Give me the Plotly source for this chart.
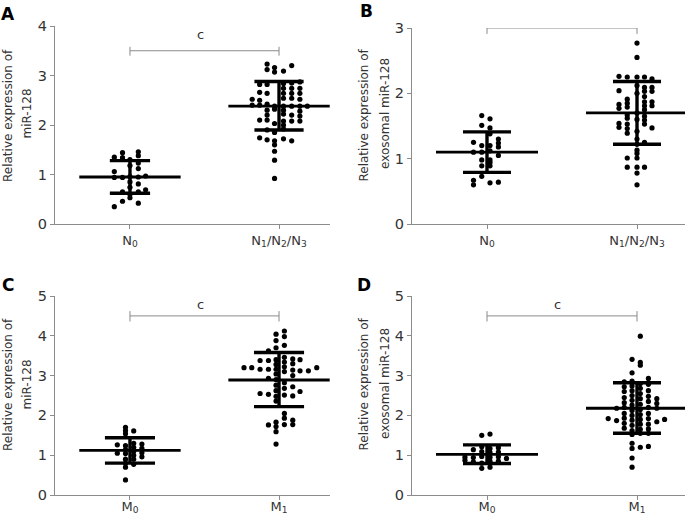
import plotly.graph_objects as go

# ---------------- data ----------------
cat_n = ["N<sub>0</sub>", "N<sub>1</sub>/N<sub>2</sub>/N<sub>3</sub>"]
cat_m = ["M<sub>0</sub>", "M<sub>1</sub>"]

# Panel A : miR-128, N0 vs N1/N2/N3
a_n0_y = [1.44, 1.46, 1.38, 1.35, 1.34, 1.30, 1.23, 1.18, 1.12, 1.06, 0.94, 0.94, 0.96,
          0.95, 0.97, 0.85, 0.81, 0.74, 0.69, 0.65, 0.65, 0.60, 0.53, 0.46, 0.42, 0.35]
a_n0_dx = [-0.05, 0.056, 0.056, -0.105, -0.05, 0.0, 0.056, 0.0, 0.056, -0.105, -0.105, -0.05, 0.0,
           0.056, 0.105, 0.0, 0.056, 0.0, 0.105, -0.05, 0.056, 0.0, 0.0, -0.05, 0.056, -0.105]
a_n1_y = [3.23, 3.12, 3.16, 3.07, 3.09, 3.20, 2.82, 2.82, 2.85, 2.87, 2.84, 2.74, 2.74, 2.74,
          2.66, 2.64, 2.64, 2.64, 2.64, 2.52, 2.54, 2.54, 2.52, 2.50, 2.40, 2.40, 2.38, 2.38,
          2.38, 2.38, 2.38, 2.42, 2.30, 2.32, 2.30, 2.28, 2.20, 2.20, 2.18, 2.22, 2.10, 2.10,
          2.08, 2.08, 2.08, 2.03, 2.00, 1.92, 1.85, 1.90, 1.74, 1.70, 1.72, 1.68, 1.68, 1.60,
          1.47, 1.29, 0.92]
a_n1_dx = [-0.08, -0.08, -0.03, -0.03, 0.03, 0.085, -0.13, -0.08, 0.085, 0.14, 0.03, 0.03, 0.085, 0.14,
           -0.13, -0.08, 0.03, 0.085, 0.14, -0.18, 0.03, 0.085, 0.14, -0.13, -0.18, -0.13, -0.03, 0.03,
           0.085, 0.14, 0.19, -0.08, -0.08, -0.03, 0.03, 0.14, -0.08, 0.085, 0.14, 0.03, -0.13, -0.08,
           0.03, 0.085, 0.14, -0.03, 0.03, 0.03, -0.03, -0.08, -0.13, -0.08, 0.03, -0.03, 0.085, -0.03,
           -0.03, -0.03, -0.03]

# Panel B : exosomal miR-128, N0 vs N1/N2/N3
b_n0_y = [1.66, 1.61, 1.51, 1.47, 1.38, 1.25, 1.30, 1.24, 1.18, 1.20, 1.20, 1.10, 1.10,
          1.12, 1.05, 0.98, 0.98, 0.94, 0.89, 0.89, 0.73, 0.67, 0.60, 0.63, 0.64]
b_n0_dx = [-0.035, 0.02, -0.035, 0.02, 0.02, -0.09, 0.076, 0.076, 0.076, -0.035, 0.02, -0.09, -0.035,
           0.02, 0.076, -0.035, 0.02, 0.02, -0.035, 0.02, -0.035, -0.09, -0.09, 0.02, 0.076]
b_n1_y = [2.26, 2.04, 1.83, 1.77, 1.54, 1.48,
          2.25, 1.91, 1.85, 1.79, 1.67, 1.62, 1.53, 1.46, 1.39, 1.01, 0.87,
          2.77, 2.55, 2.25, 2.12, 2.00, 1.70, 1.60, 1.42, 1.30, 1.22, 1.13, 1.08, 1.01, 0.87, 0.78, 0.60,
          2.25, 2.09, 2.03, 1.95, 1.87, 1.81, 1.75, 1.65, 1.59, 1.53, 1.25, 0.87,
          2.22, 2.09, 2.03, 1.87, 1.81, 1.47]
b_n1_dx = [-0.12] * 6 + [-0.065] * 11 + [0.0] * 16 + [0.05] * 12 + [0.10] * 6

# Panel C : miR-128, M0 vs M1
c_m0_y = [1.70, 1.62, 1.54, 1.24, 1.14, 1.04, 0.90, 0.80, 0.70, 0.38,
          1.61, 1.30, 1.20, 1.10, 1.00, 0.90, 0.77,
          1.28, 1.17, 1.06, 0.96,
          1.26, 1.05]
c_m0_dx = [-0.03] * 10 + [0.025] * 7 + [0.08] * 4 + [-0.085] * 2
c_m1_y = [4.04, 3.88, 3.70, 3.40, 3.28, 3.16, 3.04, 2.90, 2.76, 2.62, 2.48, 2.36, 1.83, 1.72, 1.59, 1.28,
          4.12, 3.98, 3.76, 3.46, 3.34, 3.22, 3.10, 2.82, 2.68, 2.51, 2.05, 1.93, 1.77,
          3.62, 3.38, 3.16, 2.93, 2.53, 1.76,
          3.38, 3.16, 2.55,
          3.20, 3.20,
          3.42, 3.30, 3.14, 3.00, 2.72, 2.49, 1.88, 1.77,
          3.40, 3.12, 2.60,
          3.12, 3.20]
c_m1_dx = ([-0.02] * 16 + [0.036] * 13 + [-0.071] * 6 + [-0.127] * 3 + [-0.183, -0.235]
           + [0.092] * 8 + [0.141] * 3 + [0.197, 0.253])

# Panel D : exosomal miR-128, M0 vs M1
d_m0_y = [0.95, 0.87,
          1.14, 0.94, 0.83,
          1.50, 1.21, 1.09, 0.97, 0.80, 0.67,
          1.53, 1.17, 1.07, 0.95, 0.85, 0.70,
          1.19, 1.08, 0.96, 0.85,
          0.92]
d_m0_dx = [-0.147] * 2 + [-0.091] * 3 + [-0.035] * 6 + [0.02] * 6 + [0.076] * 4 + [0.13]
d_m1_y = [1.92,
          2.18, 1.87,
          2.84, 2.72, 2.60, 2.45, 2.32, 2.20, 2.05, 1.93, 1.80, 1.68,
          3.41, 3.07, 2.86, 2.74, 2.62, 2.50, 2.38, 2.26, 2.12, 2.00, 1.88, 1.75, 1.62, 1.52, 1.30, 1.17, 0.93, 0.70,
          3.99, 3.33, 3.26, 2.80, 2.68, 2.55, 2.42, 2.28, 2.15, 2.02, 1.90, 1.78, 1.65, 1.55, 1.20,
          2.93, 2.78, 2.62, 2.48, 2.35, 2.20, 2.05, 1.92, 1.78, 1.66, 1.55, 1.22,
          2.42, 2.30, 2.18, 1.84,
          1.90]
d_m1_dx = ([-0.192] + [-0.136] * 2 + [-0.085] * 10 + [-0.033] * 18 + [0.022] * 15
           + [0.076] * 12 + [0.132] * 4 + [0.184])

# mean and SD bars as drawn (mean, upper, lower)
a_stats = [(0.95, 1.28, 0.62), (2.38, 2.88, 1.90)]
b_stats = [(1.10, 1.41, 0.79), (1.70, 2.18, 1.22)]
c_stats = [(1.12, 1.44, 0.80), (2.89, 3.58, 2.22)]
d_stats = [(1.02, 1.26, 0.79), (2.18, 2.82, 1.55)]

# significance bracket level and label level
a_sig = (3.5, 3.82)
b_sig = (3.0, 3.13)
c_sig = (4.5, 4.78)
d_sig = (4.5, 4.78)

# ---------------- figure ----------------
W, H = 690, 516
FONT = "DejaVu Sans"
fig = go.Figure()


def add_group(xa, ya, idx, ys, dxs, stats, sd_hw):
    fig.add_trace(go.Scatter(
        x=[idx + d for d in dxs], y=ys, mode="markers", xaxis=xa, yaxis=ya,
        marker=dict(color="black", size=5.2), cliponaxis=False, showlegend=False,
        hoverinfo="skip"))
    m, up, lo = stats
    fig.add_trace(go.Scatter(
        x=[idx - 0.34, idx + 0.34], y=[m, m], mode="lines", xaxis=xa, yaxis=ya,
        line=dict(color="black", width=2.8), showlegend=False, hoverinfo="skip",
        cliponaxis=False))
    fig.add_trace(go.Scatter(
        x=[idx - sd_hw, idx + sd_hw, None, idx - sd_hw, idx + sd_hw, None, idx, idx],
        y=[up, up, None, lo, lo, None, up, lo], mode="lines", xaxis=xa, yaxis=ya,
        line=dict(color="black", width=3.4), showlegend=False, hoverinfo="skip",
        cliponaxis=False))


def add_bracket(xa, ya, level, tick_lo, tick_hi):
    fig.add_trace(go.Scatter(
        x=[0, 0, None, 0, 1, None, 1, 1],
        y=[tick_lo, tick_hi, None, level, level, None, tick_lo, tick_hi],
        mode="lines", xaxis=xa, yaxis=ya, line=dict(color="#8a8a8a", width=1),
        showlegend=False, hoverinfo="skip", cliponaxis=False))


add_group("x", "y", 0, a_n0_y, a_n0_dx, a_stats[0], 0.135)
add_group("x", "y", 1, a_n1_y, a_n1_dx, a_stats[1], 0.165)
add_group("x2", "y2", 0, b_n0_y, b_n0_dx, b_stats[0], 0.16)
add_group("x2", "y2", 1, b_n1_y, b_n1_dx, b_stats[1], 0.16)
add_group("x3", "y3", 0, c_m0_y, c_m0_dx, c_stats[0], 0.168)
add_group("x3", "y3", 1, c_m1_y, c_m1_dx, c_stats[1], 0.168)
add_group("x4", "y4", 0, d_m0_y, d_m0_dx, d_stats[0], 0.16)
add_group("x4", "y4", 1, d_m1_y, d_m1_dx, d_stats[1], 0.16)

add_bracket("x", "y", a_sig[0], a_sig[0] - 0.1, a_sig[0] + 0.08)
add_bracket("x2", "y2", b_sig[0], b_sig[0] - 0.09, b_sig[0] + 0.01)
add_bracket("x3", "y3", c_sig[0], c_sig[0] - 0.14, c_sig[0] + 0.12)
add_bracket("x4", "y4", d_sig[0], d_sig[0] - 0.14, d_sig[0] + 0.12)


def xax(left_px, right_px, rng, labels, anchor, standoff):
    return dict(domain=[left_px / W, right_px / W], range=rng, anchor=anchor,
                tickmode="array", tickvals=[0, 1], ticktext=labels, automargin=False,
                showline=True, linecolor="#8c8c8c", linewidth=1, ticks="outside",
                ticklen=4, tickcolor="#8c8c8c", showgrid=False, zeroline=False,
                ticklabelstandoff=standoff,
                tickfont=dict(family=FONT, size=13, color="#333333"), fixedrange=True)


def yax(bottom_px, top_px, top_val, anchor):
    return dict(domain=[1 - bottom_px / H, 1 - top_px / H], range=[0, top_val], anchor=anchor,
                tickmode="linear", tick0=0, dtick=1, automargin=False,
                showline=True, linecolor="#8c8c8c", linewidth=1, ticks="outside",
                ticklen=4, tickcolor="#8c8c8c", showgrid=False, zeroline=False,
                tickfont=dict(family=FONT, size=14.5, color="#333333"), fixedrange=True)


fig.update_layout(
    template="none",
    width=W, height=H, margin=dict(l=0, r=0, t=0, b=0, pad=0), autosize=False,
    paper_bgcolor="white", plot_bgcolor="white",
    font=dict(family=FONT, color="#333333"),
    xaxis=xax(55, 330, [-0.503, 1.342], cat_n, "y", 0),
    yaxis=yax(224, 26, 4, "x"),
    xaxis2=xax(412, 685, [-0.5, 1.32], cat_n, "y2", 0),
    yaxis2=yax(224, 28, 3, "x2"),
    xaxis3=xax(55, 330, [-0.503, 1.342], cat_m, "y3", -5),
    yaxis3=yax(495, 296, 5, "x3"),
    xaxis4=xax(412, 685, [-0.5, 1.32], cat_m, "y4", -5),
    yaxis4=yax(495, 296, 5, "x4"),
)

ann = []
# significance labels
for xa, ya, sig in [("x", "y", a_sig), ("x2", "y2", b_sig), ("x3", "y3", c_sig), ("x4", "y4", d_sig)]:
    ann.append(dict(x=0.47, y=sig[1], xref=xa, yref=ya, text="c", showarrow=False,
                    font=dict(family=FONT, size=13, color="#333333")))

# y-axis titles (two lines each)
titles = [
    (8, 116, "Relative expression of"), (26.5, 114, "miR-128"),
    (363.5, 115, "Relative expression of"), (385, 114, "exosomal miR-128"),
    (8, 385, "Relative expression of"), (26.5, 385, "miR-128"),
    (363.5, 384, "Relative expression of"), (385, 384, "exosomal miR-128"),
]
for px, py, t in titles:
    ann.append(dict(x=px / W, y=1 - py / H, xref="paper", yref="paper", text=t,
                    showarrow=False, textangle=-90, xanchor="center", yanchor="middle",
                    font=dict(family=FONT, size=12, color="#333333")))

# panel letters
for px, py, t in [(8, 14, "A"), (366, 11, "B"), (8, 285, "C"), (364, 285, "D")]:
    ann.append(dict(x=px / W, y=1 - py / H, xref="paper", yref="paper", text="<b>%s</b>" % t,
                    showarrow=False, xanchor="center", yanchor="middle",
                    font=dict(family=FONT, size=17, color="black")))

fig.update_layout(annotations=ann)
fig.write_html("out.html", config={"displayModeBar": False},
               post_script="document.body.style.margin='0';document.body.style.overflow='hidden';")
